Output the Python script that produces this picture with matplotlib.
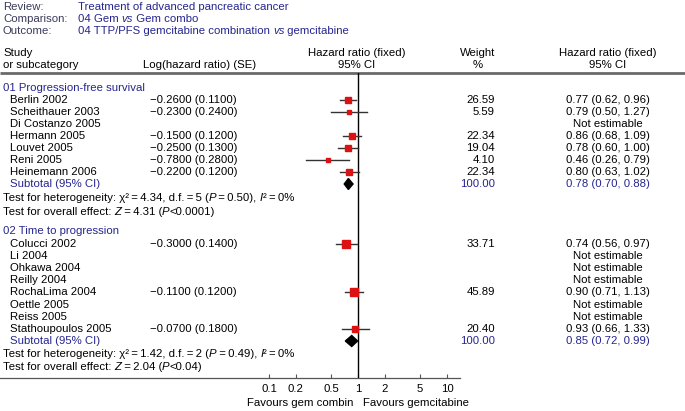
import matplotlib
matplotlib.use("Agg")
import matplotlib.pyplot as plt
from matplotlib.font_manager import FontProperties
import numpy as np

plt.rcParams['font.family'] = ['Liberation Sans', 'DejaVu Sans']

TS = "\u2009"  # thin space
# ---------------- data ----------------
group_titles = ["01 Progression-free survival", "02 Time to progression"]

studies1 = ["Berlin 2002", "Scheithauer 2003", "Di Costanzo 2005", "Hermann 2005",
            "Louvet 2005", "Reni 2005", "Heinemann 2006"]
loghr1 = [-0.26, -0.23, None, -0.15, -0.25, -0.78, -0.22]
se1 = [0.11, 0.24, None, 0.12, 0.13, 0.28, 0.12]
weight1 = [26.59, 5.59, None, 22.34, 19.04, 4.10, 22.34]
hr1 = [0.77, 0.79, None, 0.86, 0.78, 0.46, 0.80]
lo1 = [0.62, 0.50, None, 0.68, 0.60, 0.26, 0.63]
hi1 = [0.96, 1.27, None, 1.09, 1.00, 0.79, 1.02]
sub1 = (0.78, 0.70, 0.88)
het1 = [("Test for heterogeneity: \u03c7\u00b2" + TS + "=" + TS + "4.34, d.f." + TS + "=" + TS + "5 (", 'n'),
        ("P", 'i'), (TS + "=" + TS + "0.50), ", 'n'), ("I", 'i'), ("\u00b2" + TS + "=" + TS + "0%", 'n')]
eff1 = [("Test for overall effect: ", 'n'), ("Z", 'i'), (TS + "=" + TS + "4.31 (", 'n'), ("P", 'i'),
        ("<0.0001)", 'n')]

studies2 = ["Colucci 2002", "Li 2004", "Ohkawa 2004", "Reilly 2004", "RochaLima 2004",
            "Oettle 2005", "Reiss 2005", "Stathoupoulos 2005"]
loghr2 = [-0.30, None, None, None, -0.11, None, None, -0.07]
se2 = [0.14, None, None, None, 0.12, None, None, 0.18]
weight2 = [33.71, None, None, None, 45.89, None, None, 20.40]
hr2 = [0.74, None, None, None, 0.90, None, None, 0.93]
lo2 = [0.56, None, None, None, 0.71, None, None, 0.66]
hi2 = [0.97, None, None, None, 1.13, None, None, 1.33]
sub2 = (0.85, 0.72, 0.99)
het2 = [("Test for heterogeneity: \u03c7\u00b2" + TS + "=" + TS + "1.42, d.f." + TS + "=" + TS + "2 (", 'n'),
        ("P", 'i'), (TS + "=" + TS + "0.49), ", 'n'), ("I", 'i'), ("\u00b2" + TS + "=" + TS + "0%", 'n')]
eff2 = [("Test for overall effect: ", 'n'), ("Z", 'i'), (TS + "=" + TS + "2.04 (", 'n'), ("P", 'i'),
        ("<0.04)", 'n')]

tick_vals = [0.1, 0.2, 0.5, 1, 2, 5, 10]
tick_labels = ["0.1", "0.2", "0.5", "1", "2", "5", "10"]

# ---------------- layout ----------------
W, H = 685, 411
fig = plt.figure(figsize=(W / 100, H / 100), dpi=100)
ov = fig.add_axes([0, 0, 1, 1])
ov.set_xlim(0, W)
ov.set_ylim(H, 0)
ov.axis('off')
renderer = fig.canvas.get_renderer()

FS = 8.2
BLUE = '#25258f'
HEAD = '#3a3a5a'

def t(x, y, s, ha='left', color='black', fs=FS, **kw):
    ov.text(x, y, s, ha=ha, va='center', fontsize=fs, color=color, **kw)

def seg_width(s, prop):
    w1 = renderer.get_text_width_height_descent(s + "|", prop, ismath=False)[0]
    w0 = renderer.get_text_width_height_descent("|", prop, ismath=False)[0]
    return w1 - w0

def rich(x, y, segs, color='black', fs=FS):
    for s, st in segs:
        style = 'italic' if st == 'i' else 'normal'
        prop = FontProperties(family=['Liberation Sans', 'DejaVu Sans'], style=style, size=fs)
        ov.text(x, y, s, ha='left', va='center', fontproperties=prop, color=color)
        x += seg_width(s, prop)

# title block
t(3, 6.5, "Review:", color=HEAD)
t(3, 19, "Comparison:", color=HEAD)
t(3, 31.5, "Outcome:", color=HEAD)
t(78, 6.5, "Treatment of advanced pancreatic cancer", color=BLUE)
rich(78, 19, [("04 Gem ", 'n'), ("vs", 'i'), (" Gem combo", 'n')], color=BLUE)
rich(78, 31.5, [("04 TTP/PFS gemcitabine combination ", 'n'), ("vs", 'i'),
                (" gemcitabine", 'n')], color=BLUE)

# column headers
t(3, 53, "Study")
t(3, 65.5, "or subcategory")
t(143, 65.5, "Log(hazard ratio) (SE)")
t(357, 53, "Hazard ratio (fixed)", ha='center')
t(357, 65.5, "95% CI", ha='center')
t(478, 53, "Weight", ha='center')
t(478, 65.5, "%", ha='center')
t(608, 53, "Hazard ratio (fixed)", ha='center')
t(608, 65.5, "95% CI", ha='center')
ov.plot([0, W], [73.5, 73.5], color='#6a6a6a', lw=2.0, solid_capstyle='butt')

# forest axes (pixel rows on y, log HR on x)
px1, dec = 358, 89.0
ax_left, ax_right = 0, 460
ax_top, ax_bot = 73.5, 378
fa = fig.add_axes([ax_left / W, (H - ax_bot) / H, (ax_right - ax_left) / W, (ax_bot - ax_top) / H])
fa.set_facecolor('none')
fa.set_xscale('log')
fa.set_xlim(10 ** ((ax_left - px1) / dec), 10 ** ((ax_right - px1) / dec))
fa.set_ylim(ax_bot, ax_top)
for s in ['top', 'left', 'right']:
    fa.spines[s].set_visible(False)
fa.spines['bottom'].set_color('#555555')
fa.spines['bottom'].set_linewidth(0.9)
fa.set_yticks([])
fa.set_xticks(tick_vals)
fa.set_xticklabels(tick_labels)
fa.xaxis.set_minor_locator(matplotlib.ticker.NullLocator())
fa.tick_params(axis='x', direction='in', length=3, width=0.8, color='#555555',
               labelsize=FS, pad=4.5)
fa.axvline(1, color='black', lw=1.0)

def sq_size(w):
    return (3.5 + 0.11 * w) * 0.72

def draw_group(y0, title, studies, lhr, se, wt, hr, lo, hi, sub, het, eff, ys, ysub, yhet, yeff):
    t(3, y0, title, color=BLUE)
    for i, name in enumerate(studies):
        y = ys[i]
        t(10, y, name)
        if hr[i] is None:
            t(608, y, "Not estimable", ha='center')
            continue
        t(150, y, "\u2212%.4f (%.4f)" % (abs(lhr[i]), se[i]))
        t(495, y, "%.2f" % wt[i], ha='right')
        t(608, y, "%.2f (%.2f, %.2f)" % (hr[i], lo[i], hi[i]), ha='center')
        fa.plot([lo[i], hi[i]], [y, y], color='#333333', lw=1.0, zorder=2)
        fa.plot([hr[i]], [y], marker='s', ms=sq_size(wt[i]), color='#dd1111',
                mec='#dd1111', zorder=3)
    t(10, ysub, "Subtotal (95% CI)", color=BLUE)
    t(495, ysub, "100.00", ha='right', color=BLUE)
    t(608, ysub, "%.2f (%.2f, %.2f)" % sub, ha='center', color=BLUE)
    est, l, h = sub
    fa.fill([l, est, h, est], [ysub, ysub - 5.5, ysub, ysub + 5.5], color='black', zorder=4)
    rich(3, yhet, het)
    rich(3, yeff, eff)

ys1 = [100 + 12 * i for i in range(len(studies1))]
draw_group(88, group_titles[0], studies1, loghr1, se1, weight1, hr1, lo1, hi1, sub1,
           het1, eff1, ys1, 184, 197.5, 211.5)
ys2 = [243.5 + 12.2 * i for i in range(len(studies2))]
draw_group(231, group_titles[1], studies2, loghr2, se2, weight2, hr2, lo2, hi2, sub2,
           het2, eff2, ys2, 341, 354, 367)

# favours labels
t(353, 403, "Favours gem combin", ha='right')
t(363, 403, "Favours gemcitabine", ha='left')

fig.savefig("out.png", dpi=100)
